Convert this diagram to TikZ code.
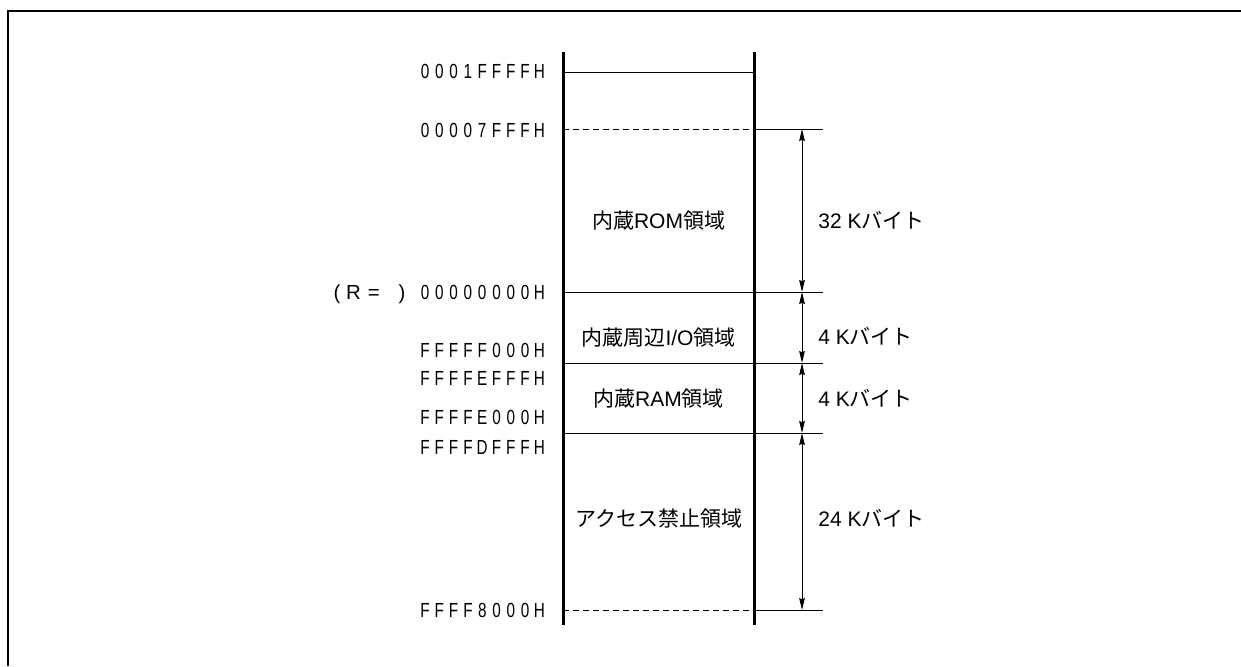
\documentclass[tikz,border=0pt]{standalone}
\usepackage{fontspec}
\setmainfont{Liberation Sans}
\newfontfamily\jp{Noto Sans CJK JP}
\newfontfamily\addrfont[FakeStretch=0.75]{Liberation Sans}
\usetikzlibrary{arrows.meta}

\newlength\charpitch
\newcommand\spaced[2]{\setlength\charpitch{#1}\spacedi#2\relax}
\def\spacedi#1{\ifx#1\relax\else\makebox[\charpitch]{#1}\expandafter\spacedi\fi}
\newcommand\addr[1]{{\addrfont\spaced{7.15pt}{#1}}}

\tikzset{
  addr/.style={anchor=base east,inner sep=0pt,font=\fontsize{10.2pt}{12pt}\selectfont},
  region/.style={anchor=base,inner sep=0pt,font=\fontsize{10.5pt}{12pt}\selectfont},
  size/.style={anchor=base west,inner sep=0pt,font=\fontsize{10.5pt}{12pt}\selectfont},
  wall/.style={line width=1.5pt},
  bound/.style={line width=0.5pt},
  dashbound/.style={line width=0.5pt,dash pattern=on 3pt off 2pt},
  >={Stealth[length=6pt,width=2.8pt,inset=0.6pt]}
}

\begin{document}
\begin{tikzpicture}[x=0.5pt,y=-0.5pt]
  \useasboundingbox (0,0) rectangle (1241,666);
  % frame
  \coordinate (frameB) at (8,666);
  \coordinate (frameC) at (8,11);
  \coordinate (frameR) at (1241,11);
  \draw[line width=1pt] (frameB) -- (frameC) -- (frameR);
  % boundaries of the map
  \foreach \y [count=\i] in {72,129,292,363,433,610} {
    \coordinate (L\i) at (563,\y);
    \coordinate (R\i) at (754,\y);
    \coordinate (D\i) at (802,\y);
    \coordinate (E\i) at (823,\y);
  }
  \coordinate (mapTL) at (563,52);
  \coordinate (mapBL) at (563,625);
  \coordinate (mapTR) at (754,52);
  \coordinate (mapBR) at (754,625);
  % addresses
  \node[addr] at (547,78.5) (a1ffff) {\addr{0001FFFFH}};
  \node[addr] at (547,137) (a7fff) {\addr{00007FFFH}};
  \node[addr] at (547,299) (azero) {\makebox[8pt]{(}\makebox[8.5pt]{R}\makebox[12pt]{=}\makebox[16pt]{)}\addr{00000000H}};
  \node[addr] at (547,357) (af000) {\addr{FFFFF000H}};
  \node[addr] at (547,385) (aefff) {\addr{FFFFEFFFH}};
  \node[addr] at (547,424) (ae000) {\addr{FFFFE000H}};
  \node[addr] at (547,454) (adfff) {\addr{FFFFDFFFH}};
  \node[addr] at (547,617) (a8000) {\addr{FFFF8000H}};
  % areas
  \node[region] at (658.5,228) (rom) {{\jp 内蔵}ROM{\jp 領域}};
  \node[region] at (658.5,345) (io) {{\jp 内蔵周辺}I/O{\jp 領域}};
  \node[region] at (658.5,406) (ram) {{\jp 内蔵}RAM{\jp 領域}};
  \node[region] at (658.5,526) (nogo) {{\jp アクセス禁止領域}};
  % sizes
  \node[size] at (818,228) (srom) {32 K{\jp バイト}};
  \node[size] at (818,344) (sio) {4 K{\jp バイト}};
  \node[size] at (818,406) (sram) {4 K{\jp バイト}};
  \node[size] at (818,526) (snogo) {24 K{\jp バイト}};
  \draw[bound] (L1) -- (R1);
  \draw[dashbound] (L2) -- (R2);
  \draw[bound] (R2) -- (E2);
  \draw[bound] (L3) -- (E3);
  \draw[bound] (L4) -- (E4);
  \draw[bound] (L5) -- (E5);
  \draw[dashbound] (L6) -- (R6);
  \draw[bound] (R6) -- (E6);
  \draw[bound,<->] (D2) -- (D3);
  \draw[bound,<->] (D3) -- (D4);
  \draw[bound,<->] (D4) -- (D5);
  \draw[bound,<->] (D5) -- (D6);
  \draw[wall] (mapTL) -- (mapBL);
  \draw[wall] (mapTR) -- (mapBR);
\end{tikzpicture}
\end{document}
